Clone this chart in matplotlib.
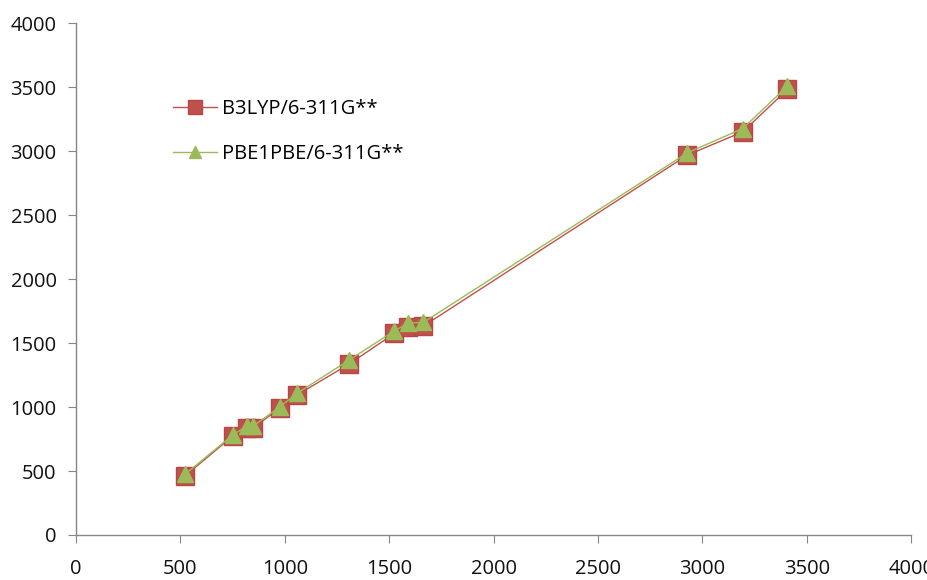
import matplotlib.pyplot as plt

exp_freq = [522, 750, 819, 848, 977, 1058, 1308, 1525, 1592, 1664, 2928, 3193, 3407]
b3lyp = [461, 773, 836, 836, 992, 1094, 1336, 1576, 1627, 1633, 2969, 3151, 3482]
pbe1pbe = [474, 781, 852, 852, 1002, 1107, 1367, 1596, 1656, 1662, 2987, 3177, 3508]

x_ticks = [0, 500, 1000, 1500, 2000, 2500, 3000, 3500, 4000]
y_ticks = [0, 500, 1000, 1500, 2000, 2500, 3000, 3500, 4000]

plt.rcParams['font.family'] = ['Open Sans', 'DejaVu Sans']

fig = plt.figure(figsize=(9.27, 5.8), dpi=100)
ax = fig.add_axes([0.082, 0.0776, 0.901, 0.8824])

ax.plot(exp_freq, b3lyp, color='#C0504D', lw=1, marker='s', ms=13,
        markerfacecolor='#C0504D', markeredgecolor='#B84744',
        label='B3LYP/6-311G**', zorder=3)
ax.plot(exp_freq, pbe1pbe, color='#9BBB59', lw=1, marker='^', ms=11,
        markerfacecolor='#9BBB59', markeredgecolor='#9BBB59',
        label='PBE1PBE/6-311G**', zorder=4)

ax.set_xlim(0, 4000)
ax.set_ylim(0, 4000)
ax.set_xticks(x_ticks)
ax.set_yticks(y_ticks)
ax.tick_params(axis='both', labelsize=14.5, color='#868686', length=6, direction='out',
               labelcolor='#111111')
ax.tick_params(axis='x', pad=11)
ax.tick_params(axis='y', pad=8)
for s in ['top', 'right']:
    ax.spines[s].set_visible(False)
for s in ['left', 'bottom']:
    ax.spines[s].set_color('#868686')
    ax.spines[s].set_linewidth(1)

ax.legend(loc='upper left', bbox_to_anchor=(173 / 927, 1 - 99 / 580),
          bbox_transform=fig.transFigure, frameon=False, fontsize=14.5,
          borderpad=0, borderaxespad=0, handlelength=2.2, handletextpad=0.25,
          labelspacing=1.25, markerscale=0.75)

fig.savefig('out.png', dpi=100)
